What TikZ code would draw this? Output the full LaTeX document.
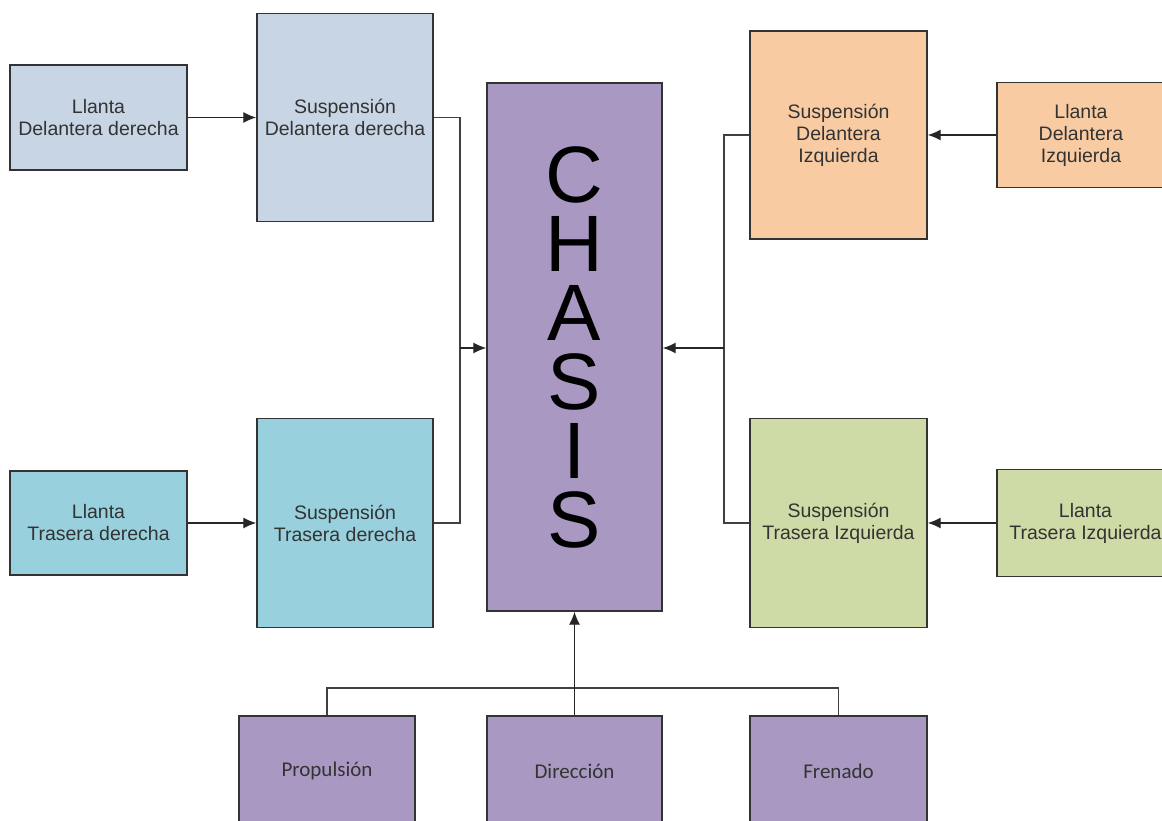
\documentclass[tikz,border=0pt]{standalone}
\usepackage{fontspec}
\setmainfont{Liberation Sans}
\newfontfamily\calfont{Carlito}
\usetikzlibrary{arrows.meta}
\definecolor{grisazul}{HTML}{C8D5E5}
\definecolor{celeste}{HTML}{98D0DD}
\definecolor{lila}{HTML}{A999C2}
\definecolor{salmon}{HTML}{F9CBA3}
\definecolor{oliva}{HTML}{CEDBA7}
\tikzset{
  caja/.style={draw=black!80,line width=1.4pt,align=center,text=black!80,
    font=\fontsize{19.5}{22}\selectfont,inner sep=0pt},
  sistema/.style={caja,fill=lila,minimum height=110pt,
    font=\calfont\fontsize{21}{24}\selectfont},
  flecha/.style={line width=1.3pt,draw=black!85,-{Latex[length=13pt,width=11pt]}},
  linea/.style={line width=1.3pt,draw=black!75}
}
\begin{document}
\begin{tikzpicture}[x=1pt,y=-1pt]
  \useasboundingbox (0,0) rectangle (1162,821);
  \clip (0,0) rectangle (1162,821);
  \fill[white] (0,0) rectangle (1162,821);
  %chasis
  \node[caja,fill=lila,minimum width=175pt,minimum height=528pt,
    font=\fontsize{80}{69}\selectfont,text=black] (chasis) at (574.5,347) {C\\H\\A\\S\\I\\S};
  %delantera derecha
  \node[caja,fill=grisazul,minimum width=177pt,minimum height=105pt] (ldd) at (98.5,117.5) {Llanta\\Delantera derecha};
  \node[caja,fill=grisazul,minimum width=176pt,minimum height=208pt] (sdd) at (345,117.5) {Suspensión\\Delantera derecha};
  %trasera derecha
  \node[caja,fill=celeste,minimum width=177pt,minimum height=104pt] (ltd) at (98.5,523) {Llanta\\Trasera derecha};
  \node[caja,fill=celeste,minimum width=176pt,minimum height=209pt] (std) at (345,523) {Suspensión\\Trasera derecha};
  %delantera izquierda
  \node[caja,fill=salmon,minimum width=177pt,minimum height=208pt] (sdi) at (838.5,135) {Suspensión\\Delantera\\Izquierda};
  \node[caja,fill=salmon,minimum width=168pt,minimum height=105pt] (ldi) at (1081,135) {Llanta\\Delantera\\Izquierda};
  %trasera izquierda
  \node[caja,fill=oliva,minimum width=177pt,minimum height=209pt] (sti) at (838.5,523) {Suspensión\\Trasera Izquierda};
  \node[caja,fill=oliva,minimum width=177pt,minimum height=107pt] (lti) at (1085.5,523) {Llanta\\Trasera Izquierda};
  %sistemas
  \node[sistema,minimum width=176pt] (prop) at (327,771) {Propulsión};
  \node[sistema,minimum width=175pt] (dir) at (574.5,771) {Dirección};
  \node[sistema,minimum width=177pt] (fren) at (838.5,771) {Frenado};
  \coordinate (jl) at (460,348);
  \coordinate (jr) at (724,348);
  \coordinate (jb) at (575,688);
  %llantas a suspensiones
  \draw[flecha] (ldd.east) -- (sdd.west);
  \draw[flecha] (ltd.east) -- (std.west);
  \draw[flecha] (ldi.west) -- (sdi.east);
  \draw[flecha] (lti.west) -- (sti.east);
  %suspensiones al chasis
  \draw[linea] (sdd.east) -| (jl) |- (std.east);
  \draw[flecha] (jl) -- (jl -| chasis.west);
  \draw[linea] (sdi.west) -| (jr) |- (sti.west);
  \draw[flecha] (jr) -- (jr -| chasis.east);
  %sistemas al chasis
  \draw[linea] (prop.north) |- (jb) -| (fren.north);
  \draw[flecha] (dir.north) -- (chasis.south);
\end{tikzpicture}
\end{document}
